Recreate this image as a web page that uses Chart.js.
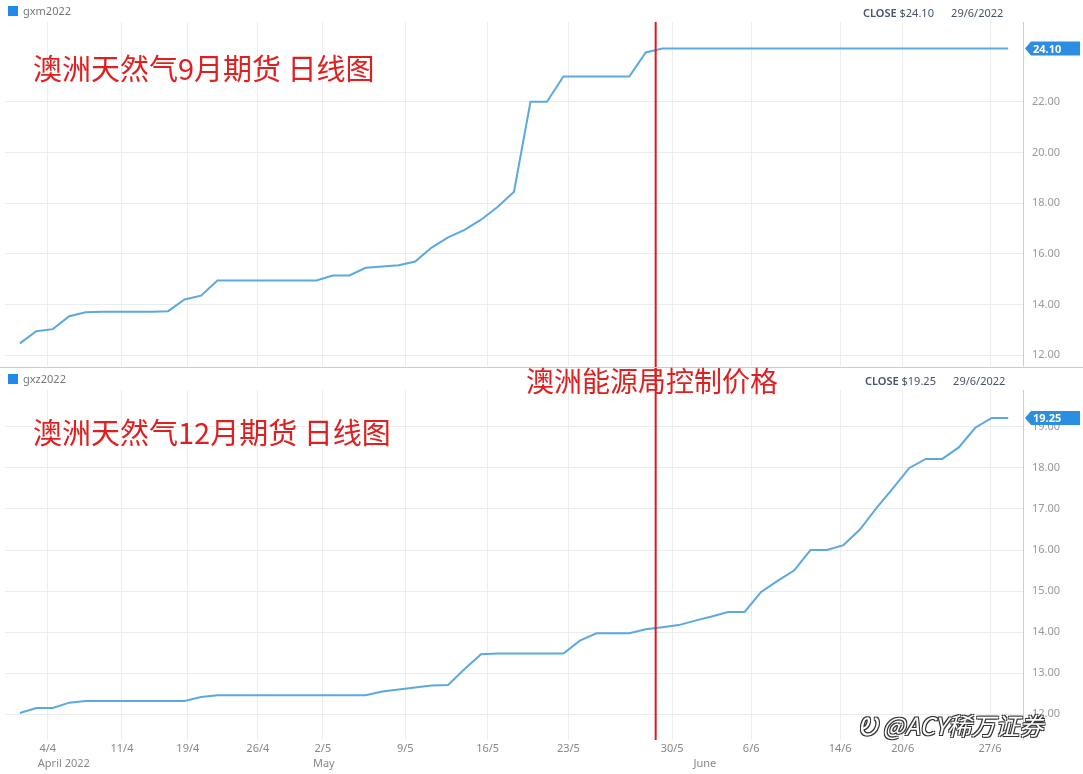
<!DOCTYPE html>
<html>
<head>
<meta charset="utf-8">
<script src="https://cdn.jsdelivr.net/npm/chart.js@4"></script>
<style>
  body { margin: 0; background: #fff; font-family: "Noto Sans", "Noto Sans CJK SC", sans-serif; }
  #wrap { position: relative; width: 1083px; height: 774px; overflow: hidden; }
  .panel { position: absolute; left: 0; width: 1083px; }
  .hdr { position: absolute; font-size: 11px; color: #777; }
  .sq { display: inline-block; width: 10px; height: 10px; background: #1f8ae8; vertical-align: -1px; margin-right: 5px; }
  .close { position: absolute; font-size: 11px; color: #44546a; }
  .close b { font-weight: 600; }
  .title { position: absolute; color: #e02020; font-size: 29px; font-family: "Noto Sans CJK SC", sans-serif; }
  .mark { position: absolute; color: #fff; font-size: 24px; font-style: italic; font-family: "Noto Sans CJK SC", sans-serif;
          text-shadow: -1px -1px 0 #333, 1px -1px 0 #333, -1px 1px 0 #333, 1px 1px 0 #333; }
</style>
</head>
<body>
<div id="wrap">
  <div class="panel" style="top:0;height:382px;z-index:0"><canvas id="top" width="1083" height="382"></canvas></div>
  <div class="panel" style="top:368px;height:406px;z-index:1"><canvas id="bot" width="1083" height="406"></canvas></div>
  <div style="position:absolute;left:0;top:367px;width:1083px;height:1px;background:#ccc;z-index:2"></div>
  <div class="hdr" style="left:8px;top:3px"><span class="sq"></span>gxm2022</div>
  <div class="close" style="left:863px;top:5px"><b>CLOSE</b> $24.10 &nbsp;&nbsp;&nbsp;&nbsp;&nbsp;29/6/2022</div>
  <div class="hdr" style="left:8px;top:371px;z-index:3"><span class="sq"></span>gxz2022</div>
  <div class="close" style="left:865px;top:373px;z-index:3"><b>CLOSE</b> $19.25 &nbsp;&nbsp;&nbsp;&nbsp;&nbsp;29/6/2022</div>
  <div class="title" style="left:33px;top:46px">澳洲天然气9月期货 日线图</div>
  <div class="title" style="left:33px;top:410px;z-index:3">澳洲天然气12月期货 日线图</div>
  <div class="title" style="left:526px;top:360px;font-size:28px;z-index:3">澳洲能源局控制价格</div>
  <div class="mark" style="left:858px;top:707px;z-index:3">Ꭷ @ACY稀万证券</div>
</div>
<script>
// week tick positions, in trading-day index units
const TICK_IDX = [1.7, 6.2, 10.2, 14.45, 18.4, 23.4, 28.4, 33.3, 39.6, 44.4, 49.8, 53.6, 58.9];
const TICK_LABELS = ['4/4', '11/4', '19/4', '26/4', '2/5', '9/5', '16/5', '23/5', '30/5', '6/6', '14/6', '20/6', '27/6'];
const MONTH_IDX = [1.7, 18.4, 41.5];
const MONTH_LABELS = ['April 2022', 'May', 'June'];
const CONTROL_IDX = 38.6;

const GXM = [12.47, 12.95, 13.03, 13.54, 13.7,
  13.72, 13.72, 13.72, 13.72, 13.74,
  14.2, 14.35, 14.95,
  14.95, 14.95, 14.95, 14.95, 14.95, 14.95,
  15.15, 15.15, 15.45, 15.5, 15.55, 15.7, 16.25, 16.65, 16.95, 17.35, 17.85, 18.45,
  22.0, 22.0, 23.0, 23.0, 23.0, 23.0, 23.0, 23.95,
  24.1, 24.1, 24.1, 24.1, 24.1, 24.1, 24.1, 24.1, 24.1, 24.1, 24.1,
  24.1, 24.1, 24.1, 24.1, 24.1, 24.1, 24.1, 24.1, 24.1, 24.1, 24.1];
const GXZ = [12.03, 12.15, 12.15, 12.28, 12.32,
  12.32, 12.32, 12.32, 12.32, 12.32, 12.32,
  12.42, 12.46,
  12.46, 12.46, 12.46, 12.46, 12.46, 12.46, 12.46, 12.46, 12.46,
  12.55, 12.6, 12.65, 12.7,
  12.71, 13.1, 13.46, 13.48,
  13.48, 13.48, 13.48, 13.48,
  13.79, 13.97, 13.97, 13.97, 14.07, 14.12, 14.17, 14.28, 14.38, 14.49, 14.49,
  14.98, 15.25, 15.5, 16.0, 16.0, 16.12, 16.5, 17.02, 17.5, 18.0, 18.22, 18.22,
  18.5, 18.98, 19.22, 19.22];
const GXM_TICKS = [12, 14, 16, 18, 20, 22];
const GXZ_TICKS = [12, 13, 14, 15, 16, 17, 18, 19];

const overlay = {
  id: 'overlay',
  afterDatasetsDraw(chart, args, opts) {
    const { ctx, chartArea: a, scales: { x, y } } = chart;
    ctx.save();
    // right axis border
    ctx.strokeStyle = '#cfcfcf'; ctx.lineWidth = 1;
    ctx.beginPath(); ctx.moveTo(a.right + 0.5, a.top); ctx.lineTo(a.right + 0.5, a.bottom); ctx.stroke();
    // control line
    const cx = x.getPixelForValue(CONTROL_IDX);
    ctx.strokeStyle = '#e01818'; ctx.lineWidth = 2;
    ctx.beginPath(); ctx.moveTo(cx, opts.lineTop); ctx.lineTo(cx, opts.lineBottom); ctx.stroke();
    // last value tag
    const data = chart.data.datasets[0].data;
    const last = data[data.length - 1];
    const ty = y.getPixelForValue(last.y);
    ctx.fillStyle = '#2b8ee0';
    ctx.beginPath();
    ctx.moveTo(a.right + 2, ty); ctx.lineTo(a.right + 8, ty - 7); ctx.lineTo(1080, ty - 7);
    ctx.lineTo(1080, ty + 7); ctx.lineTo(a.right + 8, ty + 7); ctx.closePath(); ctx.fill();
    ctx.fillStyle = '#fff'; ctx.font = 'bold 11px "Noto Sans"'; ctx.textBaseline = 'middle';
    ctx.fillText(opts.tag, a.right + 10, ty + 1);
    // month labels
    if (opts.months) {
      ctx.fillStyle = '#888'; ctx.font = '11px "Noto Sans"'; ctx.textBaseline = 'top';
      MONTH_IDX.forEach((m, i) => {
        const px = x.getPixelForValue(m);
        ctx.fillText(MONTH_LABELS[i], px - 10, a.bottom + 18);
      });
    }
    ctx.restore();
  }
};

function makeChart(id, values, yMin, yMax, yTicks, tag, showX, lineTop, lineBottom) {
  return new Chart(document.getElementById(id), {
    type: 'line',
    data: {
      datasets: [{
        data: values.map((v, i) => ({ x: i, y: v })),
        borderColor: '#5aa9e0',
        borderWidth: 2,
        pointRadius: 0,
        tension: 0
      }]
    },
    options: {
      responsive: false,
      animation: false,
      layout: { padding: { top: 22, left: 5, right: 0, bottom: 0 } },
      plugins: {
        legend: { display: false },
        tooltip: { enabled: false },
        overlay: { tag, months: showX, lineTop, lineBottom }
      },
      scales: {
        x: {
          type: 'linear', min: -0.9, max: 60.9,
          afterBuildTicks: s => { s.ticks = TICK_IDX.map(v => ({ value: v })); },
          afterFit: s => { s.height = showX ? 34 : 0; },
          grid: { color: '#ececec', drawTicks: false },
          border: { display: false },
          ticks: {
            display: showX, color: '#888', font: { size: 11, family: 'Noto Sans' }, padding: 2,
            maxRotation: 0, autoSkip: false,
            callback: v => TICK_LABELS[TICK_IDX.indexOf(v)]
          }
        },
        y: {
          position: 'right', min: yMin, max: yMax,
          afterBuildTicks: s => { s.ticks = yTicks.map(v => ({ value: v })); },
          afterFit: s => { s.width = 60; },
          grid: { color: '#ececec', drawTicks: false },
          border: { display: false },
          ticks: { color: '#999', font: { size: 11, family: 'Noto Sans' }, padding: 9, callback: v => v.toFixed(2) }
        }
      }
    },
    plugins: [overlay]
  });
}

makeChart('top', GXM, 11.56, 25.15, GXM_TICKS, '24.10', false, 22, 382);
makeChart('bot', GXZ, 11.37, 19.9, GXZ_TICKS, '19.25', true, 0, 372);
</script>
</body>
</html>
